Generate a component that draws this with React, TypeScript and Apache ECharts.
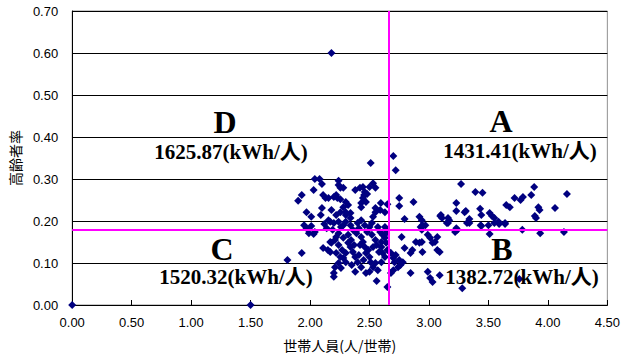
import React, { useEffect, useRef } from "react";
import * as echarts from "echarts";

// household size (persons / household) vs. elderly rate
const outliers: [number, number][] = [
  [0, 0], [1.5, 0], [2.18, 0.6],
];

const upperCluster: [number, number][] = [
  [2.70, 0.355], [2.51, 0.338], [2.72, 0.321],
  [2.04, 0.30], [2.08, 0.30], [2.10, 0.288], [2.03, 0.274], [1.93, 0.262], [1.90, 0.248],
  [2.11, 0.262], [2.13, 0.255], [2.155, 0.255], [2.20, 0.257], [2.22, 0.262], [2.255, 0.279],
  [2.28, 0.279], [2.24, 0.286], [2.23, 0.255], [2.255, 0.252], [2.24, 0.296],
  [2.30, 0.245], [2.28, 0.233], [2.32, 0.238], [2.30, 0.221], [2.34, 0.219], [2.34, 0.207],
  [2.30, 0.214], [2.255, 0.221], [2.22, 0.214], [2.18, 0.226], [2.155, 0.202], [2.10, 0.231],
  [2.09, 0.214], [2.01, 0.21], [1.97, 0.221],
  [2.38, 0.274], [2.42, 0.279], [2.445, 0.281], [2.46, 0.269], [2.455, 0.262], [2.48, 0.264],
  [2.445, 0.255], [2.43, 0.243], [2.43, 0.233], [2.47, 0.245], [2.50, 0.281], [2.53, 0.29],
  [2.55, 0.279], [2.55, 0.231], [2.55, 0.221], [2.53, 0.21],
  [2.595, 0.243], [2.59, 0.226], [2.63, 0.221], [2.65, 0.24], [2.75, 0.255], [2.75, 0.236],
  [2.87, 0.245], [2.795, 0.205], [2.92, 0.21], [2.94, 0.202], [3.095, 0.212], [3.11, 0.207],
  [3.16, 0.207], [3.17, 0.202],
  [3.27, 0.288], [3.39, 0.269], [3.45, 0.267], [3.23, 0.243], [3.23, 0.224], [3.31, 0.224],
  [3.30, 0.221], [3.34, 0.205], [3.34, 0.195],
  [3.43, 0.229], [3.44, 0.214], [3.51, 0.219], [3.53, 0.212], [3.55, 0.207], [3.585, 0.198],
  [3.64, 0.195], [3.435, 0.19], [3.50, 0.19], [3.51, 0.169],
  [3.65, 0.238], [3.68, 0.233], [3.72, 0.255], [3.77, 0.25], [3.79, 0.257], [3.86, 0.262],
  [3.885, 0.281], [3.92, 0.233], [3.93, 0.226], [3.89, 0.212], [3.90, 0.207], [4.06, 0.231],
  [4.16, 0.264],
  [3.785, 0.179], [3.935, 0.171], [4.135, 0.174], [3.59, 0.193],
  [3.23, 0.183], [3.22, 0.174], [3.16, 0.195], [3.10, 0.214], [2.945, 0.19], [2.94, 0.179],
  [2.17, 0.198], [2.20, 0.195], [2.24, 0.198], [2.28, 0.19], [2.30, 0.198], [2.34, 0.19],
  [2.40, 0.195], [2.43, 0.202], [2.46, 0.19], [2.50, 0.186],
];

const lowerCluster: [number, number][] = [
  [1.95, 0.19], [1.97, 0.183], [2.01, 0.188], [2.04, 0.174], [2.03, 0.169], [1.99, 0.171],
  [1.93, 0.124], [1.81, 0.107],
  [2.11, 0.136], [2.15, 0.131], [2.17, 0.15], [2.17, 0.126], [2.18, 0.148], [2.21, 0.155],
  [2.24, 0.143], [2.22, 0.124], [2.255, 0.114], [2.22, 0.162], [2.24, 0.171], [2.28, 0.16],
  [2.32, 0.167], [2.345, 0.155], [2.34, 0.138], [2.36, 0.126], [2.30, 0.124], [2.28, 0.112],
  [2.24, 0.10], [2.21, 0.09], [2.20, 0.076], [2.20, 0.067], [2.38, 0.114], [2.40, 0.102],
  [2.39, 0.171], [2.43, 0.162], [2.445, 0.15], [2.42, 0.143], [2.46, 0.138], [2.49, 0.131],
  [2.47, 0.124], [2.50, 0.114], [2.51, 0.102], [2.53, 0.09], [2.50, 0.079], [2.47, 0.076],
  [2.43, 0.09], [2.30, 0.102], [2.26, 0.088],
  [2.36, 0.179], [2.41, 0.183], [2.48, 0.174], [2.52, 0.167], [2.55, 0.155], [2.56, 0.143],
  [2.53, 0.138], [2.57, 0.186], [2.52, 0.195], [2.26, 0.186], [2.14, 0.183], [2.12, 0.193],
  [2.19, 0.179], [2.32, 0.148], [2.37, 0.143], [2.27, 0.131], [2.41, 0.119], [2.45, 0.107],
  [2.55, 0.10], [2.57, 0.083], [2.35, 0.095], [2.38, 0.079],
  [2.59, 0.174], [2.61, 0.167], [2.63, 0.16], [2.60, 0.15], [2.64, 0.148], [2.60, 0.138],
  [2.58, 0.126], [2.61, 0.124], [2.63, 0.114], [2.60, 0.102], [2.65, 0.131], [2.68, 0.124],
  [2.70, 0.112], [2.71, 0.102], [2.72, 0.119], [2.75, 0.107], [2.74, 0.09], [2.70, 0.083],
  [2.76, 0.095], [2.78, 0.102], [2.68, 0.076], [2.65, 0.043], [2.64, 0.179], [2.63, 0.186],
  [2.64, 0.171], [2.77, 0.162], [2.795, 0.136], [2.845, 0.124], [2.86, 0.131], [2.845, 0.076],
  [2.89, 0.15], [2.92, 0.148], [2.945, 0.126], [2.93, 0.186], [2.97, 0.19], [2.99, 0.167],
  [3.01, 0.16], [3.03, 0.148], [3.05, 0.15], [3.07, 0.162], [3.09, 0.126], [3.07, 0.131],
  [2.94, 0.15], [2.99, 0.079], [3.01, 0.064], [3.09, 0.071], [3.03, 0.055], [3.15, 0.195],
  [3.24, 0.179], [3.32, 0.195], [3.28, 0.040], [2.56, 0.057],
  [3.44, 0.188], [3.55, 0.195], [3.64, 0.193], [3.76, 0.062],
];

const meanHouseholdSize = 2.66;
const meanElderlyRate = 0.18;

const quadrantLetters = ["A", "B", "C", "D"];
const quadrantEnergy = ["1431.41(kWh/人)", "1382.72(kWh/人)", "1520.32(kWh/人)", "1625.87(kWh/人)"];

const xAxisName = "世帯人員(人/世帯)";
const yAxisName = "高齢者率";

// layout (pixel centres) for quadrant annotations, A B C D order
const letterPos = [[501, 121], [502, 249], [222, 249], [225, 122]];
const valuePos = [[520, 151], [522, 277], [236, 277], [231, 152]];

export default function App() {
  const ref = useRef<HTMLDivElement>(null);
  useEffect(() => {
    if (!ref.current) return;
    const chart = echarts.init(ref.current, null, { renderer: "svg" });
    const serif = "'Liberation Serif', 'Times New Roman', 'Noto Sans CJK JP', serif";
    const graphics: any[] = [];
    quadrantLetters.forEach((l, i) => {
      graphics.push({
        type: "text",
        x: letterPos[i][0],
        y: letterPos[i][1],
        z: 100,
        style: {
          text: l,
          font: `bold 32px ${serif}`,
          fill: "#000",
          align: "center",
          verticalAlign: "middle",
          textAlign: "center",
          textVerticalAlign: "middle",
        },
      });
      graphics.push({
        type: "text",
        x: valuePos[i][0],
        y: valuePos[i][1],
        z: 100,
        style: {
          text: quadrantEnergy[i],
          font: `bold 21px ${serif}`,
          fill: "#000",
          align: "center",
          verticalAlign: "middle",
          textAlign: "center",
          textVerticalAlign: "middle",
        },
      });
    });
    const sans = "'Liberation Sans', Arial, sans-serif";
    const cjk = "'Noto Sans CJK JP', sans-serif";
    chart.setOption({
      animation: false,
      backgroundColor: "#fff",
      grid: {
        left: 68,
        right: 14,
        top: 11,
        bottom: 53,
        show: true,
        borderColor: "#909090",
        borderWidth: 1,
      },
      xAxis: {
        type: "value",
        min: 0,
        max: 4.5,
        interval: 0.5,
        name: xAxisName,
        nameLocation: "middle",
        nameGap: 33,
        nameTextStyle: { fontFamily: cjk, fontSize: 14, color: "#000" },
        axisLine: { show: true, onZero: false, lineStyle: { color: "#000", width: 1 } },
        axisTick: { show: true, inside: true, length: 5, lineStyle: { color: "#000" } },
        axisLabel: {
          fontFamily: sans,
          fontSize: 13,
          color: "#000",
          margin: 11,
          formatter: (v: number) => v.toFixed(2),
        },
        splitLine: { show: false },
      },
      yAxis: {
        type: "value",
        min: 0,
        max: 0.7,
        interval: 0.1,
        name: yAxisName,
        nameLocation: "middle",
        nameGap: 48,
        nameTextStyle: { fontFamily: cjk, fontSize: 14, color: "#000" },
        axisLine: { show: true, onZero: false, lineStyle: { color: "#000", width: 1 } },
        axisTick: { show: false },
        axisLabel: {
          fontFamily: sans,
          fontSize: 13,
          color: "#000",
          margin: 14,
          formatter: (v: number) => v.toFixed(2),
        },
        splitLine: { show: true, lineStyle: { color: "#000", width: 1 } },
      },
      series: [
        {
          type: "scatter",
          symbol: "diamond",
          symbolSize: 8,
          itemStyle: { color: "#000080", opacity: 1 },
          data: [...outliers, ...upperCluster, ...lowerCluster],
          z: 3,
          markLine: {
            silent: true,
            symbol: "none",
            label: { show: false },
            lineStyle: { color: "#FF00FF", width: 2, type: "solid" },
            data: [{ xAxis: meanHouseholdSize }, { yAxis: meanElderlyRate }],
          },
        },
      ],
      graphic: graphics,
    });
    return () => chart.dispose();
  }, []);
  return (
    <div
      ref={ref}
      style={{ position: "absolute", left: 0, top: 0, width: 623, height: 358 }}
    />
  );
}
